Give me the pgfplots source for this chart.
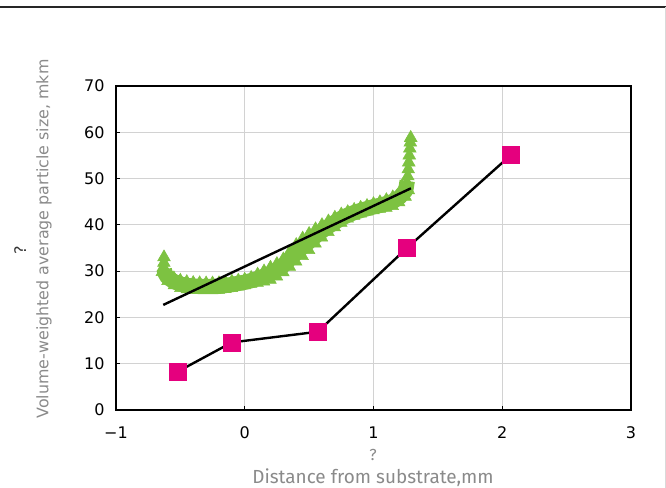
\documentclass[border=0pt]{standalone}
\usepackage{pgfplots}
\pgfplotsset{compat=1.18}
\usepackage{pgfplotstable}
\usepackage{fontspec}
\setmainfont{DejaVu Sans}
\newfontfamily\labfont{Fira Sans}
\definecolor{grn}{HTML}{7DC241}
\definecolor{pnk}{HTML}{E5007E}
\definecolor{lab}{HTML}{8A8A8A}
\definecolor{grd}{HTML}{D2D2D2}

\pgfplotstableread{
x y
-0.60 29.5
-0.55 28.6
-0.50 28.1
-0.45 27.8
-0.40 27.6
-0.35 27.55
-0.30 27.5
-0.25 27.5
-0.20 27.55
-0.15 27.7
-0.10 27.9
-0.05 28.1
0.00 28.3
0.05 28.7
0.10 29.4
0.15 30.1
0.20 30.9
0.25 31.7
0.30 32.7
0.35 34.3
0.40 35.8
0.45 37.2
0.50 38.2
0.55 39.2
0.60 40.1
0.65 40.9
0.70 41.7
0.75 42.4
0.80 42.9
0.85 43.4
0.90 43.85
0.95 44.25
1.00 44.65
1.05 45.05
1.10 45.5
1.15 46.1
1.20 47.0
1.25 48.5
}\gtop

\pgfplotstableread{
x y
-0.625 30.4
-0.62 29.6
-0.60 28.65
-0.55 27.75
-0.50 27.2
-0.45 26.9
-0.40 26.75
-0.35 26.7
-0.30 26.68
-0.25 26.68
-0.20 26.72
-0.15 26.9
-0.10 27.1
-0.05 27.35
0.00 27.6
0.05 27.95
0.10 28.4
0.15 28.9
0.20 29.5
0.25 30.25
0.30 31.2
0.35 32.6
0.40 33.9
0.45 35.2
0.50 36.35
0.55 37.55
0.60 38.65
0.65 39.65
0.70 40.55
0.75 41.4
0.80 42.1
0.85 42.65
0.90 43.1
0.95 43.5
1.00 43.9
1.05 44.2
1.10 44.6
1.15 45.05
1.20 45.9
1.25 47.4
1.262 49.5
}\gmid

\pgfplotstableread{
x y
-0.60 27.8
-0.55 26.9
-0.50 26.3
-0.45 26.0
-0.40 25.9
-0.35 25.86
-0.30 25.85
-0.25 25.85
-0.20 25.9
-0.15 26.1
-0.10 26.3
-0.05 26.6
0.00 26.9
0.05 27.2
0.10 27.45
0.15 27.7
0.20 28.1
0.25 28.8
0.30 29.7
0.35 30.9
0.40 32.0
0.45 33.2
0.50 34.5
0.55 35.9
0.60 37.2
0.65 38.4
0.70 39.4
0.75 40.4
0.80 41.3
0.85 41.9
0.90 42.4
0.95 42.8
1.00 43.1
1.05 43.4
1.10 43.65
1.15 44.0
1.20 44.8
1.25 46.0
}\gbot

\pgfplotstableread{
x y
-0.64 29.8
-0.632 30.8
-0.628 31.8
-0.627 33.0
1.27 47.5
1.262 49.0
1.266 50.5
1.27 52.0
1.274 53.5
1.278 55.0
1.282 56.5
1.286 57.8
1.289 58.8
}\gtips

\pgfplotstableread{
x y
-0.52 8.3
-0.10 14.6
0.567 16.9
1.26 35.0
2.068 55.1
}\pink

\begin{document}
\begin{tikzpicture}
\begin{axis}[
  name=ax,
  set layers,
  scale only axis,
  width=386.25pt, height=243pt,
  xmin=-1, xmax=3, ymin=0, ymax=70,
  xtick={-1,0,1,2,3},
  xticklabels={−1,0,1,2,3},
  ytick={0,10,...,70},
  /pgf/number format/assume math mode=true,
  tick label style={font=\fontsize{12}{14}\selectfont, black},
  xticklabel style={yshift=-9pt},
  yticklabel style={xshift=-5pt},
  grid=major,
  major grid style={grd, line width=0.8pt},
  axis line style={black, line width=1pt},
  tick align=inside,
  xtick pos=bottom, ytick pos=left,
  major tick length=3pt,
  tick style={black, line width=0.8pt},
  clip=false,
]
\addplot[grn, line width=11.5pt, line join=round, line cap=butt, no marks] table[x=x,y=y] {\gmid};
\addplot[only marks, mark=triangle*, mark size=5pt, grn, mark options={draw=grn, fill=grn}] table[x=x,y=y] {\gtop};
\addplot[only marks, mark=triangle*, mark size=5pt, grn, mark options={draw=grn, fill=grn}] table[x=x,y=y] {\gbot};
\addplot[only marks, mark=triangle*, mark size=5.5pt, grn, mark options={draw=grn, fill=grn}] table[x=x,y=y] {\gtips};
\addplot[black, line width=1.8pt, no marks, on layer=axis foreground] coordinates {(-0.633,22.7) (1.291,47.9)};
\addplot[black, line width=1.8pt, no marks] table[x=x,y=y] {\pink};
\addplot[only marks, mark=square*, mark size=6.3pt, mark options={draw=pnk, fill=pnk}] table[x=x,y=y] {\pink};

\node[font=\labfont\fontsize{12}{14}\selectfont, text=lab] at (rel axis cs:0.499,-0.139) {?};
\node[font=\labfont\fontsize{14.2}{16}\selectfont, text=lab] at (rel axis cs:0.499,-0.208) {Distance from substrate,mm};
\node[rotate=90, font=\fontsize{12}{14}\selectfont, text=black!80] at (rel axis cs:-0.186,0.494) {?};
\node[rotate=90, font=\fontsize{11.9}{13}\selectfont, text=lab] at (rel axis cs:-0.140,0.528) {Volume-weighted average particle size, mkm};

\coordinate (bbsw) at (rel axis cs:-0.2252,-0.2407);
\coordinate (bbne) at (rel axis cs:1.0680,1.2654);
\coordinate (tl) at (rel axis cs:-0.2252,1.2423);
\coordinate (tr) at (rel axis cs:1.0680,1.2423);
\coordinate (rt) at (rel axis cs:1.0660,1.2423);
\coordinate (rb) at (rel axis cs:1.0660,-0.2407);
\end{axis}
\draw[line width=1.5pt, black!85] (tl) -- (tr);
\draw[line width=0.6pt, black!15] (rt) -- (rb);
\pgfresetboundingbox
\path[use as bounding box] (bbsw) rectangle (bbne);
\end{tikzpicture}
\end{document}
